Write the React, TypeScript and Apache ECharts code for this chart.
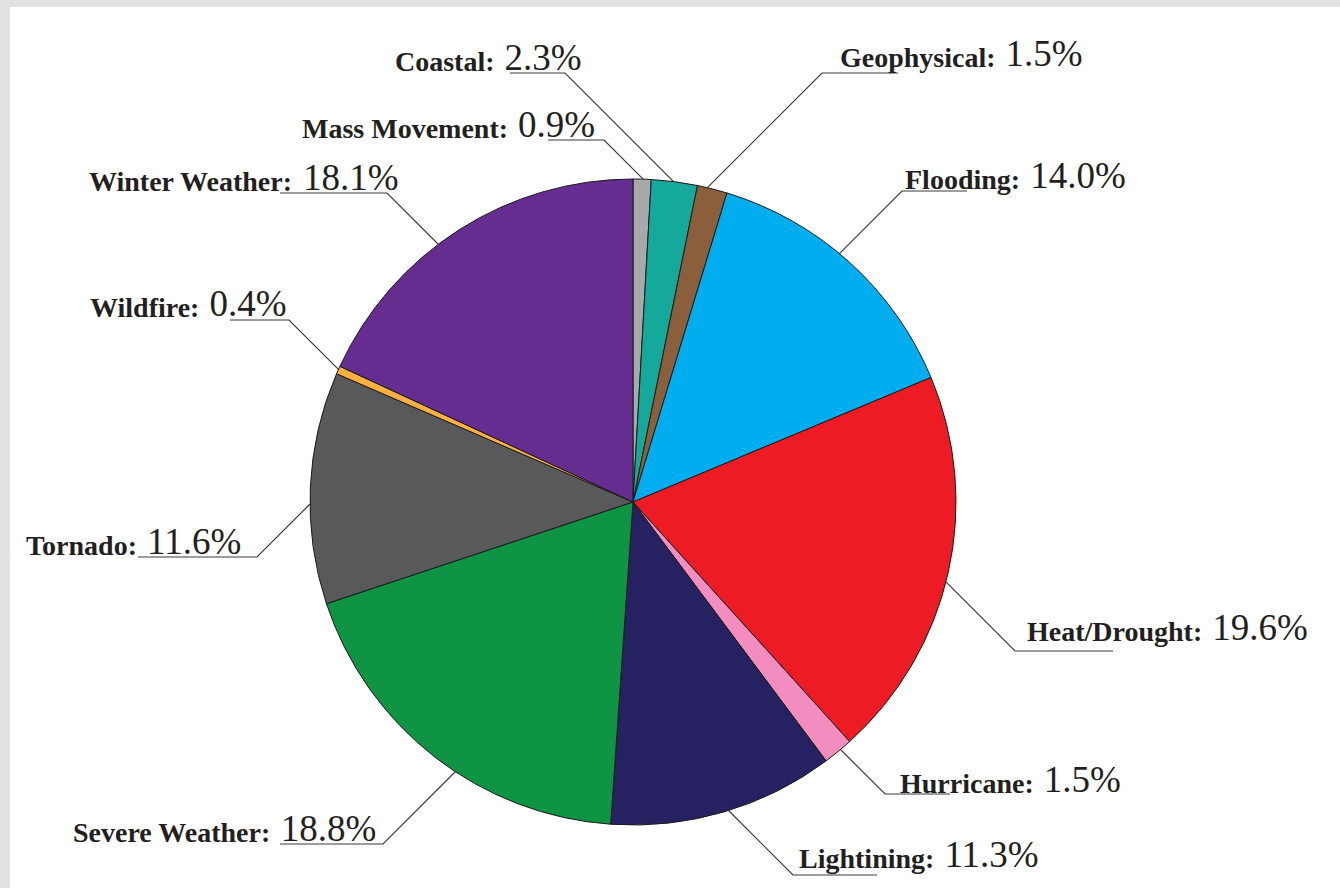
import React, { useEffect, useRef } from "react";
import * as echarts from "echarts";

// ---- data ----
const categories = [
  "Mass Movement",
  "Coastal",
  "Geophysical",
  "Flooding",
  "Heat/Drought",
  "Hurricane",
  "Lightining",
  "Severe Weather",
  "Tornado",
  "Wildfire",
  "Winter Weather",
];
const values = [0.9, 2.3, 1.5, 14.0, 19.6, 1.5, 11.3, 18.8, 11.6, 0.4, 18.1];

// ---- styles ----
const colors = [
  "#a7a9ac",
  "#15a99b",
  "#8b5e3c",
  "#00aeef",
  "#ed1c24",
  "#f38cbf",
  "#262262",
  "#0f9444",
  "#58595b",
  "#fbb040",
  "#662d91",
];

// ---- layout ----
const PIE_CX = 633;
const PIE_CY = 502;
const PIE_R = 323;
// label text left x, label middle y
const labelLeft = [302, 395, 840, 905, 1027, 900, 799, 73, 26, 90, 89];
const labelMidY = [124, 57, 53, 175, 627, 779, 854, 828, 541, 303, 177];
// underline: y, elbow x (towards pie), far x
const ulY = [140, 73, 73, 191, 651, 794, 875, 844, 557, 320, 193];
const ulElbowX = [604, 565, 822, 902, 1015, 885, 793, 383, 257, 289, 387];
const ulFarX = [548, 510, 898, 967, 1113, 950, 877, 280, 138, 230, 280];

function edgePoint(ex: number, ey: number): number[] {
  const sx = PIE_CX > ex ? 1 : -1;
  const sy = PIE_CY > ey ? 1 : -1;
  const dx = sx / Math.SQRT2;
  const dy = sy / Math.SQRT2;
  const fx = ex - PIE_CX;
  const fy = ey - PIE_CY;
  const b = fx * dx + fy * dy;
  const c = fx * fx + fy * fy - PIE_R * PIE_R;
  const disc = b * b - c;
  if (disc < 0) return [ex, ey];
  const t = -b - Math.sqrt(disc);
  return [ex + t * dx, ey + t * dy];
}

export default function App() {
  const ref = useRef<HTMLDivElement>(null);
  useEffect(() => {
    if (!ref.current) return;
    const chart = echarts.init(ref.current, null, { renderer: "svg" });
    const data = categories.map((name, i) => ({
      name,
      value: values[i],
      itemStyle: { color: colors[i] },
    }));
    chart.setOption({
      animation: false,
      series: [
        {
          type: "pie",
          center: [PIE_CX, PIE_CY],
          radius: PIE_R,
          startAngle: 90,
          clockwise: true,
          avoidLabelOverlap: false,
          data,
          itemStyle: { borderColor: "#1a1a1a", borderWidth: 1 },
          emphasis: { disabled: true },
          label: {
            show: true,
            position: "outside",
            formatter: (p: any) =>
              `{n|${p.name}: }{v|${Number(p.value).toFixed(1)}%}`,
            rich: {
              n: {
                fontFamily: "Liberation Serif",
                fontWeight: "bold",
                fontSize: 28,
                lineHeight: 28,
                color: "#231f20",
                verticalAlign: "bottom",
              },
              v: {
                fontFamily: "Liberation Serif",
                fontSize: 37,
                lineHeight: 37,
                color: "#231f20",
                verticalAlign: "bottom",
                padding: [0, 0, 0, 3],
              },
            },
          },
          labelLine: {
            show: true,
            length: 20,
            length2: 20,
            lineStyle: { color: "#3a3a3a", width: 1.2 },
          },
          labelLayout: (params: any) => {
            const i = params.dataIndex;
            const ex = ulElbowX[i];
            const ey = ulY[i];
            const start = edgePoint(ex, ey);
            return {
              x: labelLeft[i],
              y: labelMidY[i],
              align: "left",
              verticalAlign: "middle",
              labelLinePoints: [start, [ex, ey], [ulFarX[i], ey]],
            };
          },
        },
      ],
    });
    return () => chart.dispose();
  }, []);
  return (
    <div
      style={{
        position: "absolute",
        left: 0,
        top: 0,
        width: 1340,
        height: 888,
        background: "#e2e2e2",
        overflow: "hidden",
      }}
    >
      <div
        style={{
          position: "absolute",
          left: 10,
          top: 7,
          width: 1330,
          height: 881,
          background: "#ffffff",
        }}
      />
      <div
        ref={ref}
        style={{ position: "absolute", left: 0, top: 0, width: 1340, height: 888 }}
      />
    </div>
  );
}
